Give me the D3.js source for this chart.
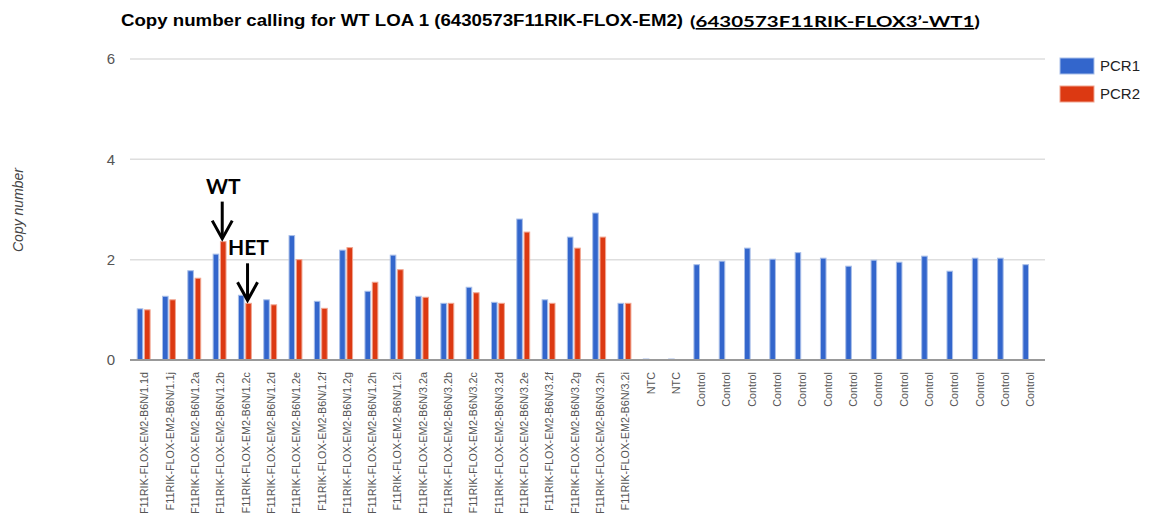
<!DOCTYPE html>
<html>
<head>
<meta charset="utf-8">
<script src="https://cdn.jsdelivr.net/npm/d3@7"></script>
<style>
  body { margin: 0; background: #fff; }
  svg { display: block; font-family: Arial, "Liberation Sans", sans-serif; }
</style>
</head>
<body>
<svg id="chart" width="1153" height="517"></svg>
<script>
// sample names along the x axis (the part that shows in the picture)
const categories = [
  "F11RIK-FLOX-EM2-B6N/1.1d", "F11RIK-FLOX-EM2-B6N/1.1j",
  "F11RIK-FLOX-EM2-B6N/1.2a", "F11RIK-FLOX-EM2-B6N/1.2b",
  "F11RIK-FLOX-EM2-B6N/1.2c", "F11RIK-FLOX-EM2-B6N/1.2d",
  "F11RIK-FLOX-EM2-B6N/1.2e", "F11RIK-FLOX-EM2-B6N/1.2f",
  "F11RIK-FLOX-EM2-B6N/1.2g", "F11RIK-FLOX-EM2-B6N/1.2h",
  "F11RIK-FLOX-EM2-B6N/1.2i", "F11RIK-FLOX-EM2-B6N/3.2a",
  "F11RIK-FLOX-EM2-B6N/3.2b", "F11RIK-FLOX-EM2-B6N/3.2c",
  "F11RIK-FLOX-EM2-B6N/3.2d", "F11RIK-FLOX-EM2-B6N/3.2e",
  "F11RIK-FLOX-EM2-B6N/3.2f", "F11RIK-FLOX-EM2-B6N/3.2g",
  "F11RIK-FLOX-EM2-B6N/3.2h", "F11RIK-FLOX-EM2-B6N/3.2i",
  "NTC", "NTC",
  "Control", "Control", "Control", "Control", "Control", "Control", "Control",
  "Control", "Control", "Control", "Control", "Control", "Control", "Control"
];

// copy number values (null = no bar)
const pcr1 = [1.02, 1.27, 1.78, 2.11, 1.29, 1.2, 2.48, 1.17, 2.19, 1.37,
  2.09, 1.27, 1.13, 1.45, 1.15, 2.81, 1.2, 2.45, 2.93, 1.13,
  0.02, 0.02,
  1.9, 1.97, 2.23, 2.01, 2.14, 2.03, 1.87, 1.99, 1.95, 2.07, 1.77, 2.03, 2.03, 1.9];
const pcr2 = [1.0, 1.2, 1.63, 2.36, 1.13, 1.1, 2.0, 1.03, 2.24, 1.55,
  1.8, 1.25, 1.13, 1.34, 1.13, 2.55, 1.13, 2.23, 2.45, 1.13,
  null, null,
  null, null, null, null, null, null, null, null, null, null, null, null, null, null];

const seriesNames = ["PCR1", "PCR2"];
const seriesColors = ["#3366cc", "#dc3912"];
const strokeColors = ["#a9bfe9", "#f0a590"];
const yTicks = [0, 2, 4, 6];

// annotations: label, category index, series
const notes = [
  { label: "WT", idx: 3, series: 1 },
  { label: "HET", idx: 4, series: 1 }
];

const svg = d3.select("#chart");

const x0 = d3.scaleBand()
  .domain(d3.range(categories.length))
  .range([131, 1042])
  .paddingInner(0.45)
  .paddingOuter(0.225);

const x1 = d3.scaleBand()
  .domain([0, 1])
  .range([0, x0.bandwidth()])
  .paddingInner(0.1);

const y = d3.scaleLinear().domain([0, 6]).range([360, 59]);

// grid lines
svg.append("g")
  .selectAll("line")
  .data(yTicks.filter(d => d > 0))
  .join("line")
  .attr("x1", 130).attr("x2", 1045)
  .attr("y1", d => y(d)).attr("y2", d => y(d))
  .attr("stroke", "#dedede")
  .attr("stroke-width", 1.5);

// y tick labels
svg.append("g")
  .selectAll("text")
  .data(yTicks)
  .join("text")
  .attr("x", 115)
  .attr("y", d => y(d))
  .attr("dy", "0.35em")
  .attr("text-anchor", "end")
  .attr("font-size", 15)
  .attr("fill", "#555")
  .text(d => d);

// y axis title
svg.append("text")
  .attr("transform", "translate(23,210) rotate(-90)")
  .attr("text-anchor", "middle")
  .attr("font-size", 14)
  .attr("font-style", "italic")
  .attr("fill", "#444")
  .text("Copy number");

// bars
const rows = categories.map((c, i) => [pcr1[i], pcr2[i]]);
const groups = svg.append("g")
  .selectAll("g")
  .data(rows)
  .join("g")
  .attr("transform", (d, i) => `translate(${x0(i)},0)`);

groups.selectAll("rect")
  .data(d => d.map((v, s) => ({ v, s })).filter(e => e.v != null))
  .join("rect")
  .attr("x", d => x1(d.s) + 0.5)
  .attr("width", x1.bandwidth() - 1)
  .attr("y", d => y(d.v))
  .attr("height", d => y(0) - y(d.v))
  .attr("fill", d => seriesColors[d.s])
  .attr("stroke", d => strokeColors[d.s])
  .attr("stroke-width", 1);

// baseline
svg.append("line")
  .attr("x1", 130).attr("x2", 1045)
  .attr("y1", y(0)).attr("y2", y(0))
  .attr("stroke", "#999")
  .attr("stroke-width", 2);

// x labels, rotated
svg.append("g")
  .selectAll("text")
  .data(categories)
  .join("text")
  .attr("transform", (d, i) => `translate(${x0(i) + x0.bandwidth() / 2 + 1},372) rotate(-90)`)
  .attr("dy", "0.35em")
  .attr("text-anchor", "end")
  .attr("font-size", 10.8)
  .attr("fill", "#555")
  .text(d => d);

// title
svg.append("text")
  .attr("x", 121)
  .attr("y", 26)
  .attr("font-size", 16)
  .attr("font-weight", "bold")
  .attr("fill", "#000")
  .attr("textLength", 562)
  .attr("lengthAdjust", "spacingAndGlyphs")
  .text("Copy number calling for WT LOA 1 (6430573F11RIK-FLOX-EM2)");

const title2 = svg.append("text")
  .attr("x", 690)
  .attr("y", 27)
  .attr("font-family", "Lato, 'Open Sans', sans-serif")
  .attr("font-size", 16)
  .attr("font-weight", "bold")
  .attr("fill", "#000")
  .attr("textLength", 290)
  .attr("lengthAdjust", "spacingAndGlyphs");
title2.append("tspan").text("(");
title2.append("tspan").attr("text-decoration", "underline").text("6430573F11RIK-FLOX3’-WT1");
title2.append("tspan").text(")");

// legend
const legend = svg.append("g")
  .selectAll("g")
  .data(seriesNames)
  .join("g")
  .attr("transform", (d, i) => `translate(1060,${58 + i * 28})`);
legend.append("rect")
  .attr("width", 34).attr("height", 16)
  .attr("fill", (d, i) => seriesColors[i])
  .attr("stroke", (d, i) => strokeColors[i]);
legend.append("text")
  .attr("x", 40).attr("y", 8)
  .attr("dy", "0.35em")
  .attr("font-size", 15)
  .attr("fill", "#222")
  .text(d => d);

// WT / HET arrows pointing at the PCR2 bar
notes.forEach(n => {
  const cx = x0(n.idx) + x1(n.series) + x1.bandwidth() / 2;
  const top = y(n.series ? pcr2[n.idx] : pcr1[n.idx]);
  const g = svg.append("g");
  g.append("text")
    .attr("x", cx)
    .attr("y", top - 48)
    .attr("text-anchor", "middle")
    .attr("font-family", "Lato, 'Open Sans', sans-serif")
    .attr("font-weight", "bold")
    .attr("font-size", 21)
    .attr("fill", "#000")
    .text(n.label);
  g.append("line")
    .attr("x1", cx - 1).attr("x2", cx - 1)
    .attr("y1", top - 40).attr("y2", top - 4)
    .attr("stroke", "#000").attr("stroke-width", 3);
  g.append("path")
    .attr("d", `M${cx - 11},${top - 21} L${cx - 1},${top - 3} L${cx + 9},${top - 21}`)
    .attr("fill", "none")
    .attr("stroke", "#000")
    .attr("stroke-width", 3);
});
</script>
</body>
</html>
